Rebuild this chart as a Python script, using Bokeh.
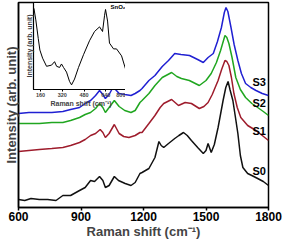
from bokeh.plotting import figure
from bokeh.models import FixedTicker, Range1d, ColumnDataSource
from bokeh.layouts import column
from bokeh.core.properties import value
from bokeh.embed import file_html
from bokeh.resources import INLINE

# ---------------- data ----------------
x_ticks = [600, 900, 1200, 1500, 1800]

s0_x = [600, 630, 660, 700, 740, 780, 813, 850, 893, 920, 946, 965, 989, 1005, 1017, 1035, 1060, 1080, 1112, 1140, 1160, 1183, 1193, 1226, 1255, 1274, 1285, 1297, 1320, 1350, 1370, 1392, 1410, 1430, 1460, 1487, 1500, 1510, 1525, 1540, 1558, 1582, 1595, 1606, 1615, 1629, 1640, 1653, 1665, 1677, 1700, 1720, 1748, 1775, 1800]
s0_y = [8, 7, 9, 8, 8, 7, 12, 12, 17, 20, 27, 26, 31, 27, 20, 22, 31, 27, 24, 22, 25, 34, 35, 39, 50, 66, 62, 60, 64, 69, 72, 75, 72, 67, 60, 54, 57, 64, 55, 63, 80, 107, 120, 126, 118, 107, 92, 74, 52, 40, 34, 32, 29, 26, 22]

s1_x = [600, 650, 700, 760, 813, 850, 893, 920, 946, 970, 992, 1005, 1017, 1035, 1060, 1083, 1105, 1130, 1160, 1183, 1193, 1226, 1255, 1280, 1297, 1335, 1368, 1400, 1430, 1468, 1490, 1510, 1530, 1558, 1575, 1591, 1600, 1610, 1622, 1634, 1650, 1667, 1700, 1740, 1770, 1800]
s1_y = [56, 57, 58, 59, 60, 62, 65, 68, 72, 74, 78, 75, 70, 74, 83, 74, 71, 70, 72, 75, 75, 84, 92, 100, 104, 108, 102, 105, 104, 99, 101, 105, 113, 127, 138, 147, 146, 142, 130, 114, 100, 90, 82, 77, 72, 67]

s2_x = [600, 650, 700, 760, 813, 850, 893, 920, 946, 970, 989, 1005, 1017, 1035, 1060, 1083, 1110, 1140, 1160, 1183, 1193, 1226, 1255, 1290, 1335, 1360, 1382, 1420, 1468, 1500, 1525, 1550, 1570, 1591, 1600, 1610, 1625, 1643, 1665, 1690, 1720, 1748, 1775, 1800]
s2_y = [84, 84, 84, 85, 85, 87, 90, 93, 95, 99, 104, 100, 95, 100, 107, 101, 97, 95, 97, 105, 107, 114, 122, 130, 135, 131, 129, 127, 122, 127, 134, 145, 157, 172, 170, 164, 150, 130, 118, 110, 104, 100, 96, 92]

s3_x = [600, 650, 700, 760, 813, 850, 893, 920, 946, 970, 989, 1005, 1017, 1035, 1053, 1070, 1083, 1110, 1140, 1160, 1183, 1193, 1226, 1255, 1290, 1320, 1350, 1380, 1421, 1460, 1487, 1510, 1535, 1555, 1574, 1588, 1596, 1605, 1620, 1635, 1653, 1670, 1690, 1715, 1740, 1770, 1800]
s3_y = [94, 95, 95, 95, 96, 98, 100, 104, 107, 112, 117, 113, 109, 113, 120, 117, 114, 113, 112, 114, 117, 119, 127, 132, 141, 147, 154, 153, 152, 148, 145, 150, 154, 166, 180, 195, 200, 196, 180, 163, 147, 134, 124, 120, 117, 114, 112]

series_names = ["S0", "S1", "S2", "S3"]
series_colors = ["#111111", "#9E1C2C", "#20A620", "#2020D2"]
label_x = [1755, 1755, 1755, 1755]
label_y = [37, 77, 105, 126]

inset_ticks = [160, 320, 480, 640, 800]
inset_x = [111, 125, 143, 155, 175, 204, 241, 263, 278, 300, 314, 329, 351, 373, 388, 410, 439, 476, 520, 557, 594, 616, 631, 638, 653, 667, 697, 719, 756, 792, 807]
inset_y = [70, 60, 44, 34, 27, 20, 21, 24, 20, 19, 22, 19, 15, 7, 4, 9, 19, 30, 42, 50, 54, 50, 64, 69, 59, 40, 35, 35, 29, 15, 10]

FONT = "Liberation Sans"

# ---------------- main figure ----------------
p = figure(width=283, height=241, output_backend="svg", toolbar_location=None,
           x_range=Range1d(600, 1800), y_range=Range1d(0, 205),
           min_border_left=15, min_border_right=15, min_border_top=2, min_border_bottom=34)
p.grid.visible = False
p.outline_line_color = "black"
p.outline_line_width = 1.5

xa = p.xaxis[0]
xa.ticker = FixedTicker(ticks=x_ticks)
xa.minor_tick_line_color = None
xa.major_tick_in = 0
xa.major_tick_out = 3
xa.major_tick_line_width = 1.5
xa.axis_line_width = 1.5
xa.major_label_standoff = 1
xa.major_label_text_font = FONT
xa.major_label_text_font_style = "bold"
xa.major_label_text_font_size = "12px"
xa.major_label_text_color = "black"
xa.axis_label = "Raman shift (cm\u207b\u00b9)"
xa.axis_label_text_font = FONT
xa.axis_label_text_font_style = "bold"
xa.axis_label_text_font_size = "13px"
xa.axis_label_standoff = 0

ya = p.yaxis[0]
ya.ticker = FixedTicker(ticks=[])
ya.major_tick_line_color = None
ya.minor_tick_line_color = None
ya.major_label_standoff = 0
ya.axis_line_width = 1.5
ya.axis_label = "Intensity (arb. unit)"
ya.axis_label_text_font = FONT
ya.axis_label_text_font_style = "bold"
ya.axis_label_text_font_size = "13px"
ya.axis_label_standoff = 0

xs = [s0_x, s1_x, s2_x, s3_x]
ys = [s0_y, s1_y, s2_y, s3_y]
for sx, sy, c in zip(xs, ys, series_colors):
    p.line(sx, sy, line_color=c, line_width=1.5)

lab_src = ColumnDataSource(dict(x=label_x, y=label_y, t=series_names))
p.text(x="x", y="y", text="t", source=lab_src, text_font=value(FONT),
       text_font_style="bold", text_font_size="11px", text_align="center",
       text_baseline="middle", text_color="black")

# ---------------- inset ----------------
ins = figure(frame_width=95, height=108, output_backend="svg", toolbar_location=None,
             x_range=Range1d(108, 807), y_range=Range1d(0, 75),
             min_border_left=12, min_border_right=3, min_border_top=1, min_border_bottom=20)
ins.styles = {"position": "absolute", "left": "15px", "top": "1px"}
ins.grid.visible = False
ins.border_fill_alpha = 0
ins.background_fill_color = "white"
ins.outline_line_color = "black"
ins.outline_line_width = 1.2

ix = ins.xaxis[0]
ix.ticker = FixedTicker(ticks=inset_ticks)
ix.minor_tick_line_color = None
ix.major_tick_in = 0
ix.major_tick_out = 2
ix.major_label_standoff = 1
ix.major_label_text_font = FONT
ix.major_label_text_font_style = "bold"
ix.major_label_text_font_size = "5.5px"
ix.axis_label = "Raman shift (cm\u207b\u00b9)"
ix.axis_label_text_font = FONT
ix.axis_label_text_font_style = "bold"
ix.axis_label_text_font_size = "7px"
ix.axis_label_standoff = 0

iy = ins.yaxis[0]
iy.ticker = FixedTicker(ticks=[])
iy.major_tick_line_color = None
iy.minor_tick_line_color = None
iy.major_label_standoff = 0
iy.axis_label = "Intensity (arb. unit)"
iy.axis_label_text_font = FONT
iy.axis_label_text_font_style = "bold"
iy.axis_label_text_font_size = "7px"
iy.axis_label_standoff = 1

ins.line(inset_x, inset_y, line_color="black", line_width=1.0)
ins.text(x=[730], y=[71], text=["SnO\u2082"], text_font=value(FONT),
         text_font_style="bold", text_font_size="6px", text_align="center",
         text_baseline="middle", text_color="black")

layout = column(p, ins)
open("out.html", "w").write(file_html(layout, INLINE))
